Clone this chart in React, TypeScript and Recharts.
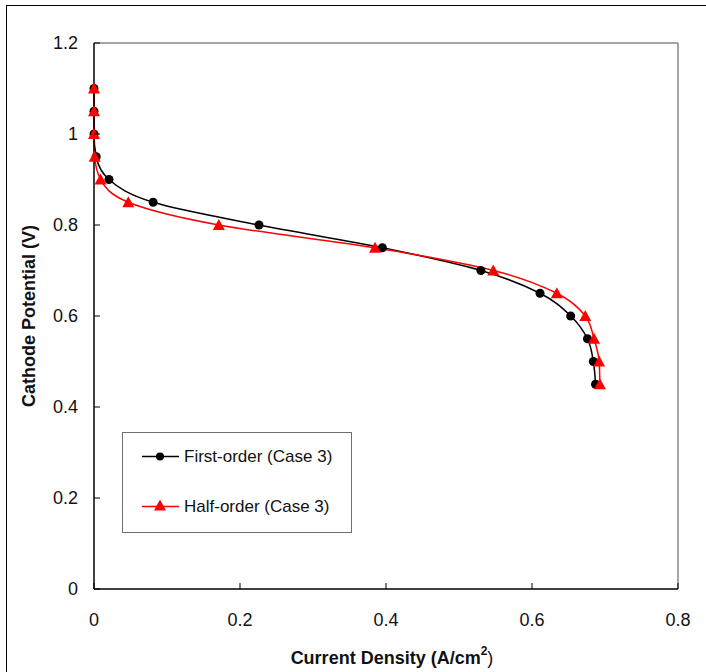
import React from "react";
import { LineChart, Line, XAxis, YAxis, Legend, ReferenceLine } from "recharts";

// cathode potential (V), shared by both series
const potential = [1.1, 1.05, 1.0, 0.95, 0.9, 0.85, 0.8, 0.75, 0.7, 0.65, 0.6, 0.55, 0.5, 0.45];
// current density (A/cm2)
const firstOrder = [0, 0, 0, 0.003, 0.0205, 0.081, 0.226, 0.395, 0.53, 0.611, 0.653, 0.676, 0.684, 0.687];
const halfOrder = [0, 0, 0, 0.001, 0.009, 0.047, 0.171, 0.385, 0.547, 0.634, 0.673, 0.685, 0.692, 0.693];

const xTicks = [0, 0.2, 0.4, 0.6, 0.8];
const yTicks = [0, 0.2, 0.4, 0.6, 0.8, 1, 1.2];
const seriesNames = ["First-order (Case 3)", "Half-order (Case 3)"];

const FONT = "Arial, 'Liberation Sans', sans-serif";

const firstData = potential.map((v, i) => ({ j: firstOrder[i], v }));
const halfData = potential.map((v, i) => ({ j: halfOrder[i], v }));

function XTick({ x, y, payload }: any) {
  return (
    <g>
      <line x1={x} y1={y} x2={x} y2={y - 6} stroke="#000" strokeWidth={1} />
      <text x={x} y={y + 31} textAnchor="middle" dominantBaseline="central" fontSize={18} fill="#111" fontFamily={FONT}>
        {String(payload.value)}
      </text>
    </g>
  );
}

function YTick({ x, y, payload }: any) {
  return (
    <g>
      <line x1={x} y1={y} x2={x + 6} y2={y} stroke="#000" strokeWidth={1} />
      <text x={x - 16} y={y} textAnchor="end" dominantBaseline="central" fontSize={18} fill="#111" fontFamily={FONT}>
        {String(payload.value)}
      </text>
    </g>
  );
}

function Triangle({ cx, cy }: any) {
  if (cx == null || cy == null) return null;
  return <polygon points={`${cx},${cy - 6} ${cx + 6},${cy + 5} ${cx - 6},${cy + 5}`} fill="#ff0000" stroke="none" />;
}

function LegendBox() {
  return (
    <svg width={230} height={101} style={{ display: "block" }}>
      <rect x={0.5} y={0.5} width={229} height={100} fill="#fff" stroke="#707070" strokeWidth={1} />
      <line x1={20} y1={24.5} x2={57} y2={24.5} stroke="#000" strokeWidth={1.5} />
      <circle cx={38} cy={24.5} r={4} fill="#000" />
      <text x={62} y={24.5} dominantBaseline="central" fontSize={17} fontFamily={FONT} fill="#111">
        {seriesNames[0]}
      </text>
      <line x1={20} y1={74.5} x2={57} y2={74.5} stroke="#ff0000" strokeWidth={1.5} />
      <Triangle cx={38} cy={73.5} />
      <text x={62} y={74.5} dominantBaseline="central" fontSize={17} fontFamily={FONT} fill="#111">
        {seriesNames[1]}
      </text>
    </svg>
  );
}

function XTitle({ viewBox }: any) {
  const cx = viewBox.x + viewBox.width / 2;
  return (
    <text x={cx + 6} y={viewBox.y + 69} textAnchor="middle" dominantBaseline="central" fontSize={18} fontWeight="bold" fontFamily={FONT} fill="#111">
      Current Density (A/cm
      <tspan fontSize={12} dy={-7}>2</tspan>
      <tspan dy={7} fontWeight="normal">)</tspan>
    </text>
  );
}

function YTitle({ viewBox }: any) {
  const cy = viewBox.y + viewBox.height / 2;
  return (
    <text x={29} y={cy} transform={`rotate(-90 29 ${cy})`} textAnchor="middle" dominantBaseline="central" fontSize={18} fontWeight="bold" fontFamily={FONT} fill="#111">
      Cathode Potential (V)
    </text>
  );
}

export default function App() {
  return (
    <div style={{ position: "absolute", left: 0, top: 0, width: 706, height: 672, overflow: "hidden", background: "#fff" }}>
      <div style={{ position: "absolute", left: 6, top: 5, width: 760, height: 720, border: "1px solid #000" }} />
      <LineChart width={706} height={672} margin={{ top: 43, right: 28, bottom: 0, left: 0 }}>
        <XAxis
          dataKey="j"
          type="number"
          domain={[0, 0.8]}
          ticks={xTicks}
          height={83}
          tickSize={0}
          tickMargin={0}
          tick={<XTick />}
          axisLine={{ stroke: "#000", strokeWidth: 1.5 }}
          label={<XTitle />}
        />
        <YAxis
          dataKey="v"
          type="number"
          domain={[0, 1.2]}
          ticks={yTicks}
          width={94}
          tickSize={0}
          tickMargin={0}
          tick={<YTick />}
          axisLine={{ stroke: "#000", strokeWidth: 1.5 }}
          label={<YTitle />}
        />
        <ReferenceLine y={1.2} stroke="#888" strokeWidth={1.5} />
        <ReferenceLine x={0.8} stroke="#888" strokeWidth={1.5} />
        <Legend
          layout="horizontal"
          verticalAlign="middle"
          content={() => <LegendBox />}
          wrapperStyle={{ position: "absolute", left: 122, top: 432, width: 230, height: 101 }}
        />
        <Line
          data={firstData}
          dataKey="v"
          name={seriesNames[0]}
          type="monotoneY"
          stroke="#000"
          strokeWidth={1.5}
          dot={{ r: 4.5, fill: "#000", stroke: "none", clipDot: false }}
          isAnimationActive={false}
        />
        <Line
          data={halfData}
          dataKey="v"
          name={seriesNames[1]}
          type="monotoneY"
          stroke="#ff0000"
          strokeWidth={1.5}
          dot={(p: any) => <Triangle key={p.index} cx={p.cx} cy={p.cy} />}
          isAnimationActive={false}
        />
      </LineChart>
    </div>
  );
}
